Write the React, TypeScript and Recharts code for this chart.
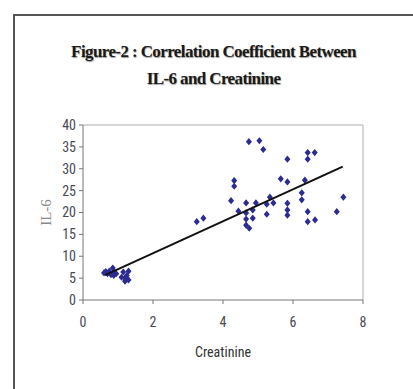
import React from 'react';
import { ScatterChart, Scatter, XAxis, YAxis, ReferenceLine, Label } from 'recharts';

const creatinine = [
  0.6, 0.65, 0.7, 0.75, 0.8, 0.85, 0.9, 0.88, 0.95, 1.1, 1.15, 1.2, 1.25, 1.3, 1.2, 1.3,
  3.25, 3.44,
  4.23, 4.32, 4.32, 4.44, 4.74, 5.04, 5.15, 5.84, 6.42, 6.42, 6.62,
  5.65, 5.84, 6.34, 6.25, 6.25, 4.66, 4.66, 4.66, 4.66, 4.75, 4.85, 4.85, 4.94,
  5.25, 5.25, 5.34, 5.44, 5.84, 5.84, 5.84, 6.42, 6.42, 6.63, 7.25, 7.44,
];
const il6 = [
  6.2, 6.5, 6.0, 6.6, 5.8, 7.3, 6.3, 5.6, 6.0, 5.2, 6.4, 4.3, 5.6, 6.6, 5.0, 4.6,
  17.9, 18.7,
  22.7, 26.0, 27.3, 20.3, 36.2, 36.4, 34.4, 32.2, 33.7, 32.2, 33.7,
  27.7, 27.0, 27.4, 24.5, 22.9, 22.2, 19.9, 18.5, 17.1, 16.4, 20.6, 18.7, 22.2,
  21.9, 19.6, 23.5, 22.2, 22.1, 20.6, 19.4, 20.2, 17.9, 18.3, 20.2, 23.5,
];
const trendX = [0.63, 7.42];
const trendY = [5.7, 30.5];
const xTicks = [0, 2, 4, 6, 8];
const yTicks = [0, 5, 10, 15, 20, 25, 30, 35, 40];

const points = creatinine.map((x, i) => ({ x, y: il6[i] }));
const trend = trendX.map((x, i) => ({ x, y: trendY[i] }));

const narrow = '"Liberation Sans Narrow", "Arial Narrow", "Roboto Condensed", "Liberation Sans", sans-serif';
const tickStyle = { fill: '#4a4a55', fontSize: 14, fontFamily: narrow };

const Diamond = (props: any) => {
  const { cx, cy } = props;
  if (cx == null || cy == null) return null;
  return <path d={`M${cx},${cy - 3.6}L${cx + 3},${cy}L${cx},${cy + 3.6}L${cx - 3},${cy}Z`} fill="#2b2b92" />;
};

export default function App() {
  return (
    <div style={{ position: 'absolute', left: 0, top: 0, width: 413, height: 389, background: '#fff', overflow: 'hidden' }}>
      <div style={{ position: 'absolute', left: 13, top: 14, width: 420, height: 2, background: '#555' }} />
      <div style={{ position: 'absolute', left: 13, top: 14, width: 2, height: 380, background: '#555' }} />
      <div style={{
        position: 'absolute', left: 0, top: 38, width: 427, textAlign: 'center',
        fontFamily: '"Liberation Serif", "Times New Roman", serif', fontWeight: 'bold', fontSize: 17,
        lineHeight: '27px', color: '#1a1a1a', letterSpacing: -0.6, textShadow: '0.6px 0.6px 1px #999',
      }}>
        Figure-2 : Correlation Coefficient Between<br />IL-6 and Creatinine
      </div>
      <div style={{ position: 'absolute', left: 0, top: 0 }}>
        <ScatterChart width={413} height={389} margin={{ top: 125, right: 50, bottom: 59, left: 43 }}>
          <XAxis
            type="number" dataKey="x" domain={[0, 8]} ticks={xTicks} interval={0}
            stroke="#777" tickSize={4} tickMargin={13} tick={tickStyle} height={30}
          >
            <Label value="Creatinine" position="bottom" offset={17}
              style={{ fill: '#333', fontSize: 14, fontFamily: narrow }} />
          </XAxis>
          <YAxis
            type="number" dataKey="y" domain={[0, 40]} ticks={yTicks} interval={0}
            stroke="#777" tickSize={4} tickMargin={3} tick={tickStyle} width={40}
          >
            <Label value="IL-6" position="center" angle={-90} dx={-17}
              style={{ fill: '#888', fontSize: 15, fontFamily: '"Liberation Serif", serif' }} />
          </YAxis>
          <ReferenceLine y={40} stroke="#c8c8c8" strokeWidth={1.5} />
          <ReferenceLine x={8} stroke="#c8c8c8" strokeWidth={1.5} />
          <Scatter data={points} fill="#2b2b92" shape={Diamond} isAnimationActive={false} legendType="none" />
          <Scatter data={trend} line={{ stroke: '#111', strokeWidth: 2 }} shape={() => null} isAnimationActive={false} legendType="none" />
        </ScatterChart>
      </div>
    </div>
  );
}
